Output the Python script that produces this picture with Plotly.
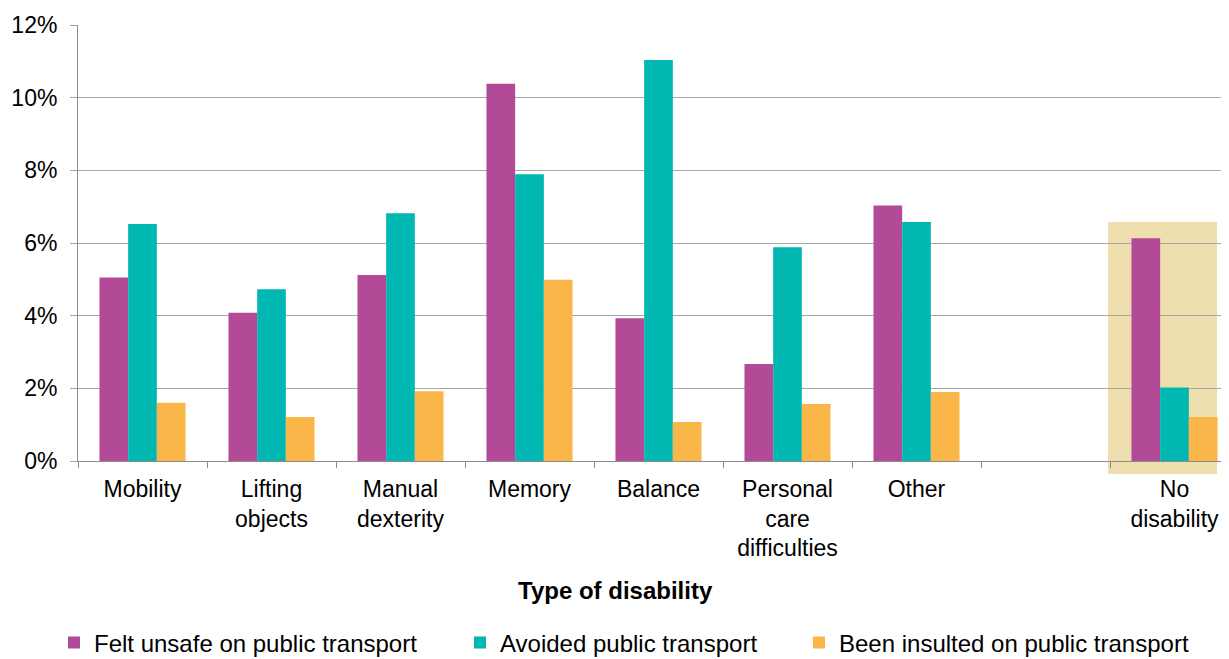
import plotly.graph_objects as go

categories = ["Mobility", "Lifting<br>objects", "Manual<br>dexterity", "Memory", "Balance",
              "Personal<br>care<br>difficulties", "Other", " ", "No<br>disability"]
felt_unsafe = [5.05, 4.08, 5.12, 10.38, 3.93, 2.67, 7.03, None, 6.13]
avoided = [6.52, 4.73, 6.82, 7.89, 11.04, 5.88, 6.58, None, 2.02]
insulted = [1.60, 1.21, 1.92, 4.99, 1.07, 1.57, 1.90, None, 1.21]
series_names = ["Felt unsafe on public transport", "Avoided public transport",
                "Been insulted on public transport"]
colors = ["#B24A98", "#00B7B2", "#FBB649"]
y_ticks = [0, 2, 4, 6, 8, 10, 12]
y_tick_text = ["0%", "2%", "4%", "6%", "8%", "10%", "12%"]

FONT = "Liberation Sans, Arial, sans-serif"

fig = go.Figure()
legend_ids = ["legend", "legend2", "legend3"]
for vals, name, col, lg in zip([felt_unsafe, avoided, insulted], series_names, colors, legend_ids):
    fig.add_trace(go.Bar(x=categories, y=vals, name=name, marker_color=col,
                         marker_line_width=0, legend=lg))

W, H = 1229, 659
ML, MT, MB = 70, 17, 206
PW = W - ML
PH = H - MT - MB

fig.update_layout(
    width=W, height=H,
    margin=dict(l=ML, r=0, t=MT, b=MB),
    paper_bgcolor="white", plot_bgcolor="white",
    barmode="group", bargap=0.333, bargroupgap=0,
    font=dict(family=FONT, size=23, color="#000000"),
    showlegend=True,
)

legend_common = dict(orientation="h", xref="container", yref="container",
                     yanchor="middle", font=dict(family=FONT, size=24, color="#000000"),
                     bgcolor="rgba(0,0,0,0)", borderwidth=0, itemclick=False)
fig.update_layout(
    legend=dict(x=46 / W, y=1 - 635 / H, **legend_common),
    legend2=dict(x=452 / W, y=1 - 635 / H, **legend_common),
    legend3=dict(x=791 / W, y=1 - 635 / H, **legend_common),
)

fig.update_xaxes(
    type="category", range=[-0.5, -0.5 + PW / 129],
    showline=True, linecolor="#8C8C8C", linewidth=1,
    ticks="outside", tickson="boundaries", ticklen=6, tickcolor="#8C8C8C",
    showgrid=False, ticklabelstandoff=7,
    tickfont=dict(family=FONT, size=23, color="#000000"),
)
fig.update_yaxes(
    range=[0, 12], tickvals=y_ticks, ticktext=y_tick_text,
    showline=True, linecolor="#8C8C8C", linewidth=1,
    ticks="outside", ticklen=7, tickcolor="#A6A6A6",
    showgrid=True, gridcolor="#A6A6A6", gridwidth=1,
    zeroline=False, ticklabelstandoff=8,
    tickfont=dict(family=FONT, size=23, color="#000000"),
)

# highlight box around "No disability"
fig.add_shape(type="rect", xref="x", yref="paper",
              x0=7.484, x1=8.33, y0=-13 / PH, y1=239 / PH,
              fillcolor="#EFDFAE", line_width=0, layer="below")

fig.add_annotation(text="<b>Type of disability</b>", xref="paper", yref="paper",
                   x=(615 - 78) / PW, y=(461 - 590) / PH, showarrow=False,
                   xanchor="center", yanchor="middle",
                   font=dict(family=FONT, size=24, color="#000000"))

fig.write_html("out.html")
